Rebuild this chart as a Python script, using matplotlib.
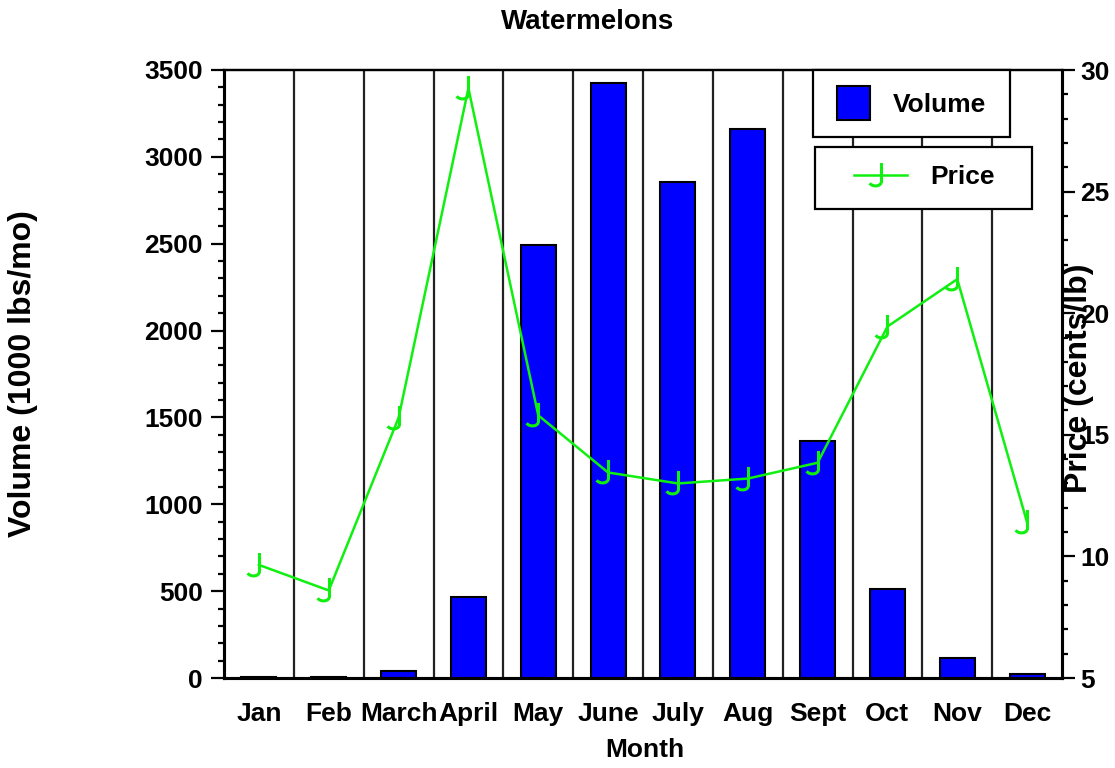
import matplotlib
matplotlib.use('Agg')
import matplotlib.pyplot as plt
import numpy as np
from matplotlib.path import Path
from matplotlib import font_manager as fm
from matplotlib.font_manager import FontProperties
from matplotlib.ticker import MultipleLocator
from matplotlib.patches import Rectangle

months = ['Jan', 'Feb', 'March', 'April', 'May', 'June', 'July', 'Aug', 'Sept', 'Oct', 'Nov', 'Dec']
volume = [4, 4, 40, 466, 2493, 3425, 2855, 3161, 1364, 512, 115, 23]
price = [9.65, 8.6, 15.7, 29.25, 15.8, 13.45, 13.0, 13.2, 13.85, 19.45, 21.4, 11.4]


def has_font(name):
    try:
        fm.findfont(FontProperties(family=name), fallback_to_default=False)
        return True
    except Exception:
        return False


narrow = has_font('Liberation Sans Narrow')
NF = 'Liberation Sans Narrow' if narrow else 'Liberation Sans'
ns = 23 if narrow else 19
fs_px = ns * 100 / 72.0

plt.rcParams['font.family'] = [NF, 'DejaVu Sans']
plt.rcParams['font.weight'] = 'bold'
plt.rcParams['font.size'] = ns

W, H = 1115, 768
fig = plt.figure(figsize=(W / 100, H / 100), dpi=100)
ax = fig.add_axes([224 / W, 90 / H, (1062 - 224) / W, 608 / H])

GREEN = '#10f010'
x = np.arange(len(months))

# category separators
for b in np.arange(0.5, len(months) - 0.5, 1):
    ax.axvline(b, color='#222222', lw=1.6, zorder=1)

bars = ax.bar(x, volume, width=0.5, color='#0000ff', edgecolor='black', lw=1.5, zorder=3)
ax.set_xlim(-0.5, len(months) - 0.5)
ax.set_ylim(0, 3500)
ax.yaxis.set_major_locator(MultipleLocator(500))
ax.yaxis.set_minor_locator(MultipleLocator(100))
ax.set_xticks(x)
ax.set_xticklabels(months)
ax.tick_params(axis='x', length=0, pad=17)
ax.tick_params(axis='y', which='major', length=9.4, width=1.6, direction='out', pad=6)
ax.tick_params(axis='y', which='minor', length=4.5, width=1.6, direction='out')
for s in ['left', 'bottom', 'right']:
    ax.spines[s].set_linewidth(2.2)
ax.spines['top'].set_linewidth(1.6)

# J-shaped marker
verts = [(0, 1), (0, -0.45), (0, -0.9), (-0.7, -0.95), (-0.95, -0.62)]
codes = [Path.MOVETO, Path.LINETO, Path.CURVE4, Path.CURVE4, Path.CURVE4]
jmark = Path(verts, codes)

ax2 = ax.twinx()
line, = ax2.plot(x, price, color=GREEN, lw=1.8, marker=jmark, ms=18,
                 mec=GREEN, mfc='none', mew=2.2, zorder=4)
ax2.set_ylim(5, 30)
ax2.yaxis.set_major_locator(MultipleLocator(5))
ax2.yaxis.set_minor_locator(MultipleLocator(1))
ax2.tick_params(axis='y', which='major', length=9.4, width=1.6, direction='out', pad=4)
ax2.tick_params(axis='y', which='minor', length=4.5, width=1.6, direction='out')
for s in ['left', 'bottom', 'right']:
    ax2.spines[s].set_linewidth(2.2)
ax2.spines['top'].set_linewidth(1.6)

# legend boxes
r1 = Rectangle((813 / W, (H - 137) / H), 197 / W, 67 / H, transform=fig.transFigure,
               facecolor='white', edgecolor='black', lw=1.6, zorder=4)
r2 = Rectangle((815 / W, (H - 209) / H), 217 / W, 62 / H, transform=fig.transFigure,
               facecolor='white', edgecolor='black', lw=1.6, zorder=4)
fig.add_artist(r1)
fig.add_artist(r2)

lp = FontProperties(family=[NF], weight='bold', size=ns)
leg1 = fig.legend([bars], ['Volume'], loc='center left',
                  bbox_to_anchor=(837 / W, (H - 103) / H), frameon=False, prop=lp,
                  handlelength=33 / fs_px, handleheight=42 / fs_px,
                  handletextpad=23 / fs_px, borderpad=0, borderaxespad=0)
leg1.set_zorder(6)
leg2 = fig.legend([line], ['Price'], loc='center left',
                  bbox_to_anchor=(854 / W, (H - 177) / H), frameon=False, prop=lp,
                  handlelength=53 / fs_px, handletextpad=23 / fs_px, numpoints=1,
                  borderpad=0, borderaxespad=0)
leg2.set_zorder(6)

fig.text(588 / W, 1 - 22 / H, 'Watermelons', ha='center', va='center',
         fontsize=ns + 1, fontweight='bold')
fig.text(645 / W, 18 / H, 'Month', ha='center', va='center', fontsize=ns, fontweight='bold')
ylfs = 24 if narrow else 23
fig.text(23 / W, 1 - 374 / H, 'Volume (1000 lbs/mo)', rotation=90, ha='center', va='center',
         family=['Liberation Sans', 'DejaVu Sans'], fontsize=ylfs, fontweight='bold')
fig.text(1079 / W, 1 - 378 / H, 'Price (cents/lb)', rotation=90, ha='center', va='center',
         family=['Liberation Sans', 'DejaVu Sans'], fontsize=ylfs, fontweight='bold')

fig.savefig('out.png', dpi=100)
